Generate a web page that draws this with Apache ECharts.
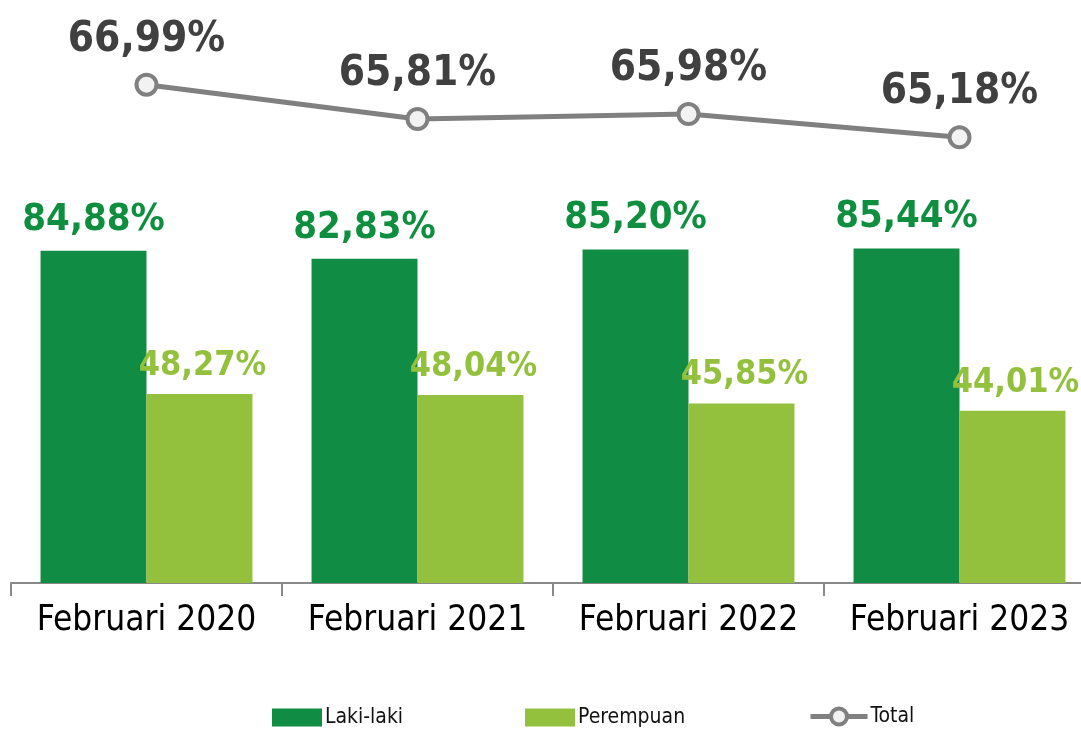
<!DOCTYPE html>
<html>
<head>
<meta charset="utf-8">
<script src="https://cdn.jsdelivr.net/npm/echarts@6/dist/echarts.min.js"></script>
<style>
  html, body { margin: 0; padding: 0; background: #fff; }
  #main { width: 1081px; height: 732px; }
</style>
</head>
<body>
<div id="main"></div>
<script>
var categories = ["Februari 2020", "Februari 2021", "Februari 2022", "Februari 2023"]
var lakiLaki = [84.88, 82.83, 85.20, 85.44]
var perempuan = [48.27, 48.04, 45.85, 44.01]
var total = [66.99, 65.81, 65.98, 65.18]

var narrow = "'Liberation Sans Narrow', 'Arial Narrow', 'DejaVu Sans Condensed', sans-serif"

function pct(p) {
  return p.value.toFixed(2).replace(".", ",") + "%"
}

var legendText = { fontFamily: narrow, fontSize: 21, color: "#111", padding: [0, 0, 0, -2] }

var myChart = echarts.init(document.getElementById("main"))
var option = {
  animation: false,
  textStyle: { fontFamily: narrow },
  // the last category runs past the right edge, as in the original
  grid: { left: 11, right: -14, top: 35, bottom: 149, outerBoundsMode: "none" },
  legend: [
    {
      data: ["Laki-laki"], left: 272, top: 707, padding: 0, icon: "rect",
      itemWidth: 50, itemHeight: 18,
      textStyle: legendText
    },
    {
      data: ["Perempuan"], left: 525, top: 707, padding: 0, icon: "rect",
      itemWidth: 50, itemHeight: 18,
      textStyle: legendText
    },
    {
      data: ["Total"], left: 808, top: 706, padding: 0,
      itemWidth: 57, itemHeight: 20,
      lineStyle: { width: 5, color: "#808080" },
      itemStyle: { borderWidth: 4, borderColor: "#808080", color: "#f2f2f2" },
      textStyle: legendText
    }
  ],
  xAxis: {
    type: "category",
    data: categories,
    axisLine: { lineStyle: { color: "#898989", width: 2 } },
    axisTick: { show: true, length: 13, lineStyle: { color: "#898989", width: 2 } },
    axisLabel: { interval: 0, fontFamily: narrow, fontSize: 35, color: "#000", margin: 20 }
  },
  yAxis: [
    { type: "value", min: 0, max: 140, show: false, splitLine: { show: false } },
    { type: "value", min: 49.85, max: 68.7, show: false, splitLine: { show: false } }
  ],
  series: [
    {
      name: "Laki-laki",
      type: "bar",
      data: lakiLaki,
      barGap: "0%",
      barCategoryGap: "21.8%",
      itemStyle: { color: "#118c44" },
      label: {
        show: true, position: "top", distance: 12,
        fontFamily: narrow, fontSize: 38, fontWeight: "bold", color: "#0e8e3f",
        formatter: pct
      }
    },
    {
      name: "Perempuan",
      type: "bar",
      data: perempuan,
      itemStyle: { color: "#93c13d" },
      label: {
        show: true, position: "top", distance: 11, offset: [3, 0],
        fontFamily: narrow, fontSize: 34, fontWeight: "bold", color: "#93c13d",
        formatter: pct
      }
    },
    {
      name: "Total",
      type: "line",
      yAxisIndex: 1,
      data: total,
      symbol: "circle",
      symbolSize: 20,
      lineStyle: { color: "#808080", width: 5 },
      itemStyle: { color: "#f2f2f2", borderColor: "#808080", borderWidth: 4 },
      label: {
        show: true, position: "top", distance: 12,
        fontFamily: narrow, fontSize: 42, fontWeight: "bold", color: "#404040",
        formatter: pct
      },
      z: 5
    }
  ]
}
myChart.setOption(option)
</script>
</body>
</html>
